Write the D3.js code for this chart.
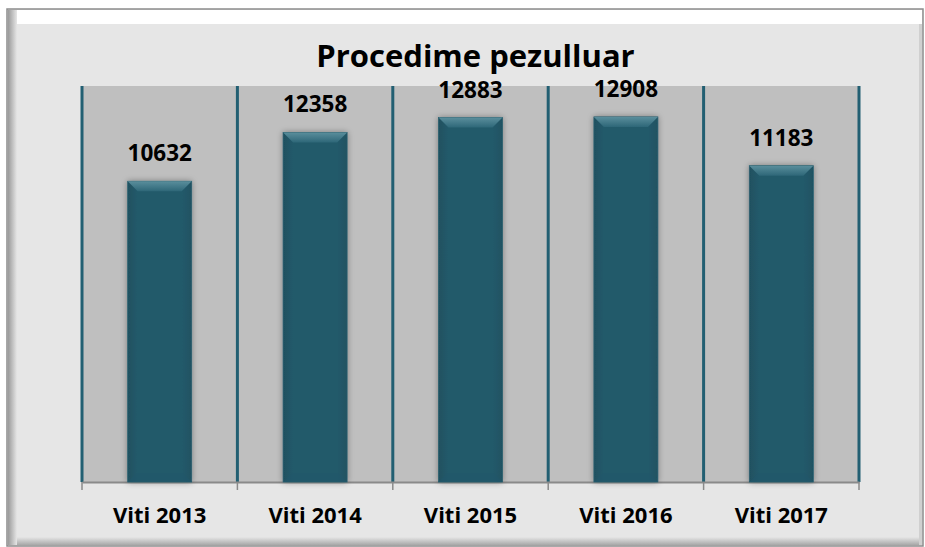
<!DOCTYPE html>
<html>
<head>
    <style>
        body { margin: 0; background: #fff; }
        text { font-family: "Open Sans", sans-serif; font-weight: bold; fill: #000; }
        .title { font-size: 31px; }
        .val { font-size: 22.5px; }
        .axis text { font-size: 22px; }
    </style>
    <script src="https://d3js.org/d3.v7.min.js"></script>
</head>
<body>
    <svg width="925" height="547"></svg>
    <script>
        var years = ["Viti 2013", "Viti 2014", "Viti 2015", "Viti 2016", "Viti 2017"];
        var counts = [10632, 12358, 12883, 12908, 11183];
        var title = "Procedime pezulluar";

        var svg = d3.select("svg");
        var defs = svg.append("defs");

        // frame bevel gradients
        var lg = defs.append("linearGradient").attr("id", "leftBevel");
        lg.append("stop").attr("offset", 0).attr("stop-color", "#9a9a9a");
        lg.append("stop").attr("offset", 1).attr("stop-color", "#e6e6e6");
        var bg = defs.append("linearGradient").attr("id", "botBevel").attr("x1", 0).attr("y1", 0).attr("x2", 0).attr("y2", 1);
        bg.append("stop").attr("offset", 0).attr("stop-color", "#e6e6e6");
        bg.append("stop").attr("offset", 1).attr("stop-color", "#a8a8a8");

        var barGrad = defs.append("linearGradient").attr("id", "barGrad");
        barGrad.append("stop").attr("offset", 0).attr("stop-color", "#1f5060");
        barGrad.append("stop").attr("offset", 0.15).attr("stop-color", "#245a6a");
        barGrad.append("stop").attr("offset", 0.85).attr("stop-color", "#245a6a");
        barGrad.append("stop").attr("offset", 1).attr("stop-color", "#1f5262");
        var topGrad = defs.append("linearGradient").attr("id", "topGrad").attr("x1", 0).attr("y1", 0).attr("x2", 0).attr("y2", 1);
        topGrad.append("stop").attr("offset", 0).attr("stop-color", "#5a8e9c");
        topGrad.append("stop").attr("offset", 1).attr("stop-color", "#2e6778");

        var shadow = defs.append("filter").attr("id", "shadow")
            .attr("x", "-30%").attr("y", "-10%").attr("width", "160%").attr("height", "130%");
        shadow.append("feGaussianBlur").attr("in", "SourceAlpha").attr("stdDeviation", 3);
        shadow.append("feOffset").attr("dx", 0).attr("dy", 0).attr("result", "b");
        shadow.append("feComponentTransfer").append("feFuncA").attr("type", "linear").attr("slope", 0.35);
        var fm = shadow.append("feMerge");
        fm.append("feMergeNode");
        fm.append("feMergeNode").attr("in", "SourceGraphic");

        // outer frame
        svg.append("rect").attr("x", 7).attr("y", 9).attr("width", 916).attr("height", 537)
            .attr("fill", "#e6e6e6").attr("stroke", "#8c8c8c").attr("stroke-width", 1.5);
        svg.append("rect").attr("x", 8).attr("y", 10).attr("width", 914).attr("height", 14).attr("fill", "#ffffff");
        svg.append("rect").attr("x", 8).attr("y", 10).attr("width", 9).attr("height", 535).attr("fill", "url(#leftBevel)");
        svg.append("rect").attr("x", 17).attr("y", 537).attr("width", 905).attr("height", 8).attr("fill", "url(#botBevel)");
        svg.append("rect").attr("x", 919).attr("y", 24).attr("width", 3).attr("height", 521).attr("fill", "#d0d0d0");

        var m = { left: 82, right: 859, top: 86, bottom: 482 };

        var x = d3.scaleBand().domain(years).range([m.left, m.right]).paddingInner(0).paddingOuter(0);
        var y = d3.scaleLinear().domain([0, 14000]).range([m.bottom, m.top]);

        // plot area
        svg.append("rect").attr("x", m.left).attr("y", m.top)
            .attr("width", m.right - m.left).attr("height", m.bottom - m.top).attr("fill", "#bfbfbf");

        // category dividers
        var edges = years.map(function(d) { return x(d); }).concat([m.right]);
        svg.selectAll(".div").data(edges).enter().append("line")
            .attr("x1", function(d) { return d; }).attr("x2", function(d) { return d; })
            .attr("y1", m.top).attr("y2", m.bottom)
            .attr("stroke", "#225f72").attr("stroke-width", 3);

        // axis
        var axis = svg.append("g").attr("class", "axis")
            .attr("transform", "translate(0," + m.bottom + ")")
            .call(d3.axisBottom(x).tickSize(0).tickPadding(29));
        axis.select(".domain").attr("stroke", "#8a8a8a").attr("stroke-width", 2);
        axis.selectAll("text").attr("dy", "0.55em");
        axis.selectAll(".edge").data(edges).enter().append("line").attr("class", "edge")
            .attr("x1", function(d) { return d; }).attr("x2", function(d) { return d; })
            .attr("y1", 0).attr("y2", 8).attr("stroke", "#8a8a8a").attr("stroke-width", 1.5);

        var bw = 64;
        var bars = svg.selectAll(".bar").data(counts).enter().append("g").attr("class", "bar");

        bars.append("rect")
            .attr("x", function(d, i) { return x(years[i]) + x.bandwidth() / 2 - bw / 2; })
            .attr("y", function(d) { return y(d); })
            .attr("width", bw)
            .attr("height", function(d) { return m.bottom - y(d); })
            .attr("fill", "url(#barGrad)")
            .attr("stroke", "#2b5f6e").attr("stroke-width", 0.8)
            .attr("filter", "url(#shadow)");

        // top bevel
        bars.append("path")
            .attr("d", function(d, i) {
                var x0 = x(years[i]) + x.bandwidth() / 2 - bw / 2, y0 = y(d), b = 10;
                return "M" + x0 + "," + y0 + "L" + (x0 + bw) + "," + y0 +
                       "L" + (x0 + bw - b) + "," + (y0 + b) + "L" + (x0 + b) + "," + (y0 + b) + "Z";
            })
            .attr("fill", "url(#topGrad)");

        // bottom bevel hint
        bars.append("path")
            .attr("d", function(d, i) {
                var x0 = x(years[i]) + x.bandwidth() / 2 - bw / 2, b = 9;
                return "M" + (x0 + bw) + "," + m.bottom + "L" + (x0 + bw - b) + "," + (m.bottom - b) +
                       "L" + (x0 + b) + "," + (m.bottom - b) + "L" + x0 + "," + m.bottom + "Z";
            })
            .attr("fill", "#21566a").attr("opacity", 0.6);

        bars.append("text").attr("class", "val")
            .attr("x", function(d, i) { return x(years[i]) + x.bandwidth() / 2; })
            .attr("y", function(d) { return y(d) - 20; })
            .attr("text-anchor", "middle")
            .text(function(d) { return d; });

        svg.append("text").attr("class", "title")
            .attr("x", (m.left + m.right) / 2 + 5).attr("y", 67)
            .attr("text-anchor", "middle")
            .text(title);
    </script>
</body>
</html>
